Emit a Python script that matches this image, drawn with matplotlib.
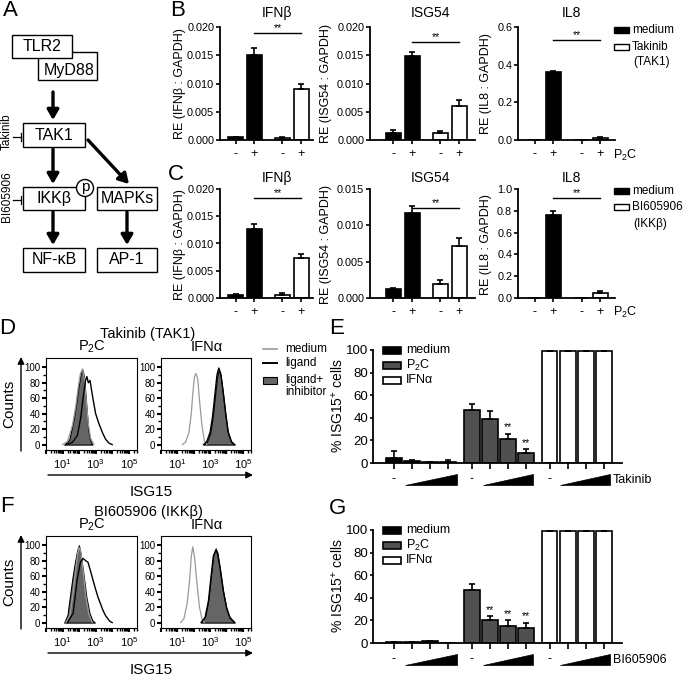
import matplotlib
matplotlib.use("Agg")
import matplotlib.pyplot as plt
from matplotlib.patches import Rectangle, Circle, Polygon
from matplotlib.ticker import FormatStrFormatter
import numpy as np

plt.rcParams['font.family'] = ['Liberation Sans', 'DejaVu Sans']
plt.rcParams['mathtext.fontset'] = 'custom'
plt.rcParams['mathtext.rm'] = 'Liberation Sans'
plt.rcParams['mathtext.it'] = 'Liberation Sans:italic'
plt.rcParams['mathtext.bf'] = 'Liberation Sans:bold'

# qPCR panels (B, C)
pos_qpcr = [0, 1, 2.5, 3.5]
p2c_labels = ['-', '+', '-', '+']
fills_qpcr = ['black', 'black', 'white', 'white']

tak_ifnb = [0.0005, 0.0150, 0.0004, 0.0090]
tak_ifnb_err = [0.0001, 0.0013, 0.0001, 0.0010]
tak_isg54 = [0.0013, 0.0149, 0.0013, 0.0060]
tak_isg54_err = [0.0005, 0.0007, 0.0003, 0.0011]
tak_il8 = [0.002, 0.362, 0.002, 0.012]
tak_il8_err = [0.0, 0.006, 0.0, 0.004]

bi_ifnb = [0.0005, 0.0126, 0.0006, 0.0074]
bi_ifnb_err = [0.0002, 0.0009, 0.0003, 0.0006]
bi_isg54 = [0.0012, 0.0117, 0.0019, 0.0071]
bi_isg54_err = [0.0002, 0.0009, 0.0006, 0.0011]
bi_il8 = [0.003, 0.76, 0.003, 0.05]
bi_il8_err = [0.0, 0.035, 0.0, 0.01]

# % ISG15+ cells (E, G)
pos_dose = [0, 1, 2, 3, 4.3, 5.3, 6.3, 7.3, 8.6, 9.6, 10.6, 11.6]
dose_colors = ['black'] * 4 + ['#505050'] * 4 + ['white'] * 4
tak_isg15 = [4, 1.8, 0.8, 1.2, 47, 39, 21, 8.5, 99, 99, 99, 99]
tak_isg15_err = [6.5, 1.2, 0.5, 1.2, 5, 7, 5, 3.5, 0.5, 0.5, 0.5, 0.5]
tak_stars = [6, 7]
bi_isg15 = [0.5, 0.5, 1.5, 0.2, 47, 20, 15, 13, 99, 99, 99, 99]
bi_isg15_err = [0.5, 0.4, 0.6, 0.2, 5.5, 3.5, 5, 4.5, 0.5, 0.5, 0.5, 0.5]
bi_stars = [5, 6, 7]

# flow histograms (D, F), x in log10 units, y = counts (% of max)
tak_p2c_medium_x = [1.0, 1.3, 1.6, 1.8, 1.95, 2.08, 2.2, 2.3, 2.42, 2.55, 2.7, 2.9]
tak_p2c_medium_y = [0, 4, 25, 50, 75, 92, 98, 88, 60, 28, 8, 0]
tak_p2c_ligand_x = [1.2, 1.6, 1.9, 2.1, 2.25, 2.38, 2.47, 2.56, 2.66, 2.75, 2.85, 3.0, 3.2, 3.4, 3.6, 3.8, 4.0]
tak_p2c_ligand_y = [0, 3, 12, 35, 62, 82, 88, 80, 83, 71, 58, 40, 27, 16, 7, 2, 0]
tak_p2c_inhib_x = [1.1, 1.4, 1.64, 1.8, 1.94, 2.08, 2.2, 2.3, 2.44, 2.55, 2.65, 2.8]
tak_p2c_inhib_y = [0, 6, 29, 50, 71, 90, 97, 88, 50, 20, 7, 0]

tak_ifna_medium_x = [1.3, 1.5, 1.7, 1.85, 1.95, 2.05, 2.14, 2.25, 2.35, 2.5, 2.65, 2.8]
tak_ifna_medium_y = [0, 3, 15, 40, 68, 88, 92, 84, 58, 25, 5, 0]
tak_ifna_ligand_x = [2.6, 2.8, 3.0, 3.15, 3.3, 3.42, 3.53, 3.65, 3.8, 3.95, 4.1, 4.3, 4.5]
tak_ifna_ligand_y = [0, 4, 16, 36, 66, 90, 99, 92, 68, 40, 17, 4, 0]
tak_ifna_inhib_x = [2.6, 2.8, 3.0, 3.15, 3.3, 3.42, 3.53, 3.65, 3.8, 3.95, 4.1, 4.3, 4.5]
tak_ifna_inhib_y = [0, 3, 14, 34, 63, 87, 97, 89, 64, 37, 14, 3, 0]

bi_p2c_medium_x = [1.2, 1.45, 1.65, 1.8, 1.92, 2.0, 2.1, 2.25, 2.4, 2.6, 2.8]
bi_p2c_medium_y = [0, 10, 40, 70, 90, 97, 92, 65, 35, 10, 0]
bi_p2c_ligand_x = [1.3, 1.64, 1.88, 2.08, 2.24, 2.4, 2.54, 2.7, 2.84, 3.0, 3.14, 3.3, 3.44, 3.6, 3.84, 4.0]
bi_p2c_ligand_y = [0, 12, 55, 78, 83, 80, 78, 66, 55, 43, 33, 24, 16, 9, 2, 0]
bi_p2c_inhib_x = [1.1, 1.3, 1.44, 1.6, 1.74, 1.88, 1.99, 2.1, 2.23, 2.44, 2.63, 2.8, 2.95]
bi_p2c_inhib_y = [0, 10, 33, 58, 77, 93, 100, 88, 68, 33, 12, 3, 0]

bi_ifna_medium_x = [1.2, 1.4, 1.6, 1.75, 1.85, 1.94, 2.05, 2.2, 2.35, 2.5, 2.65]
bi_ifna_medium_y = [0, 5, 25, 55, 85, 98, 85, 50, 20, 5, 0]
bi_ifna_ligand_x = [2.45, 2.7, 2.9, 3.05, 3.2, 3.34, 3.45, 3.6, 3.8, 4.0, 4.2, 4.5]
bi_ifna_ligand_y = [0, 7, 28, 58, 86, 93, 90, 72, 42, 20, 7, 0]
bi_ifna_inhib_x = [2.45, 2.7, 2.9, 3.05, 3.2, 3.34, 3.45, 3.6, 3.8, 4.0, 4.2, 4.5]
bi_ifna_inhib_y = [0, 8, 30, 60, 88, 96, 90, 70, 40, 18, 6, 0]

W, H = 683, 677
fig = plt.figure(figsize=(W / 100, H / 100), dpi=100)


def px_axes(x0, y0, x1, y1):
    # axes from pixel box (top-left origin)
    return fig.add_axes([x0 / W, 1 - y1 / H, (x1 - x0) / W, (y1 - y0) / H])


def qpcr_panel(rect, xl, vals, errs, ymax, ystep, fmt, sig_y):
    ax = px_axes(*rect)
    ax.bar(pos_qpcr, vals, width=0.8, color=fills_qpcr, edgecolor='black', linewidth=1.2, zorder=2)
    ax.errorbar(pos_qpcr, vals, yerr=[np.zeros(4), errs], fmt='none', ecolor='black',
                elinewidth=1.2, capsize=2.5, capthick=1.2, zorder=3)
    ax.plot([pos_qpcr[1], pos_qpcr[3]], [sig_y, sig_y], color='black', lw=1, clip_on=False)
    ax.text((pos_qpcr[1] + pos_qpcr[3]) / 2, sig_y, '**', ha='center', va='bottom', fontsize=7.5)
    ax.set_xlim(*xl)
    ax.set_ylim(0, ymax)
    ax.set_yticks(np.arange(0, ymax + ystep / 2, ystep))
    ax.yaxis.set_major_formatter(FormatStrFormatter(fmt))
    ax.set_xticks(pos_qpcr)
    ax.set_xticklabels(p2c_labels)
    for s in ['top', 'right']:
        ax.spines[s].set_visible(False)
    for s in ['left', 'bottom']:
        ax.spines[s].set_linewidth(1.3)
    ax.tick_params(axis='y', length=3, width=1.2, labelsize=7.8, pad=1.2)
    ax.tick_params(axis='x', length=3, width=1.2, labelsize=9, pad=3)
    return ax


def dose_panel(rect, vals, errs, stars):
    ax = px_axes(*rect)
    ax.bar(pos_dose, vals, width=0.88, color=dose_colors, edgecolor='black', linewidth=1.2, zorder=2)
    ax.errorbar(pos_dose, vals, yerr=[np.zeros(len(vals)), errs], fmt='none', ecolor='black',
                elinewidth=1.2, capsize=2.5, capthick=1.2, zorder=3)
    for i in stars:
        ax.text(pos_dose[i], vals[i] + errs[i] + 1.5, '**', ha='center', va='bottom', fontsize=7.5)
    ax.set_xlim(-1.14, 12.6)
    ax.set_ylim(0, 100)
    ax.set_yticks(range(0, 101, 20))
    ax.set_xticks(pos_dose)
    ax.set_xticklabels([])
    for s in ['top', 'right']:
        ax.spines[s].set_visible(False)
    for s in ['left', 'bottom']:
        ax.spines[s].set_linewidth(1.3)
    ax.tick_params(axis='y', length=2.5, width=1.2, labelsize=9.5, pad=1)
    ax.tick_params(axis='x', length=4.5, width=1.2)
    return ax


def hist_panel(rect, mx, my, lx, ly, ix, iy):
    ax = px_axes(*rect)
    ax.fill_between(ix, iy, 0, facecolor='#656565', edgecolor='black', linewidth=0.8, zorder=2)
    ax.plot(mx, my, color='#9a9a9a', lw=0.9, zorder=3)
    ax.plot(lx, ly, color='black', lw=1.0, zorder=4)
    ax.set_xlim(0.05, 5.5)
    ax.set_ylim(-7, 112)
    ax.set_yticks(range(0, 101, 20))
    ax.set_yticks(range(10, 101, 20), minor=True)
    ax.set_xticks([0, 1, 2, 3, 4, 5])
    ax.set_xticklabels(['', '$10^{1}$', '', '$10^{3}$', '', '$10^{5}$'])
    ax.set_xticks([d + np.log10(k) for d in range(0, 6) for k in range(2, 10) if d + np.log10(k) < 5.5],
                  minor=True)
    for s in ax.spines.values():
        s.set_linewidth(0.8)
    ax.tick_params(axis='both', which='major', length=3, width=1.5, labelsize=7, pad=1)
    ax.tick_params(axis='x', which='major', pad=2.5, labelsize=8)
    ax.tick_params(axis='both', which='minor', length=2, width=1.0)
    return ax


# B: Takinib
qpcr_panel((220, 27, 313, 140), (-0.84, 4.13), tak_ifnb, tak_ifnb_err, 0.020, 0.005, '%.3f', 0.0189)
qpcr_panel((370, 27, 475, 140), (-1.23, 4.33), tak_isg54, tak_isg54_err, 0.020, 0.005, '%.3f', 0.0174)
qpcr_panel((518, 27, 615, 140), (-0.89, 4.28), tak_il8, tak_il8_err, 0.6, 0.2, '%.1f', 0.53)
# C: BI605906
qpcr_panel((220, 189, 313, 298), (-0.84, 4.13), bi_ifnb, bi_ifnb_err, 0.020, 0.005, '%.3f', 0.0183)
qpcr_panel((370, 189, 475, 298), (-1.23, 4.33), bi_isg54, bi_isg54_err, 0.015, 0.005, '%.3f', 0.0124)
qpcr_panel((518, 189, 615, 298), (-0.89, 4.28), bi_il8, bi_il8_err, 1.0, 0.2, '%.1f', 0.915)

# D, F: histograms
hist_panel((46, 358, 137, 450), tak_p2c_medium_x, tak_p2c_medium_y, tak_p2c_ligand_x, tak_p2c_ligand_y,
           tak_p2c_inhib_x, tak_p2c_inhib_y)
hist_panel((161, 358, 251, 450), tak_ifna_medium_x, tak_ifna_medium_y, tak_ifna_ligand_x, tak_ifna_ligand_y,
           tak_ifna_inhib_x, tak_ifna_inhib_y)
hist_panel((46, 536, 137, 628), bi_p2c_medium_x, bi_p2c_medium_y, bi_p2c_ligand_x, bi_p2c_ligand_y,
           bi_p2c_inhib_x, bi_p2c_inhib_y)
hist_panel((161, 536, 251, 628), bi_ifna_medium_x, bi_ifna_medium_y, bi_ifna_ligand_x, bi_ifna_ligand_y,
           bi_ifna_inhib_x, bi_ifna_inhib_y)

# E, G: % ISG15+ cells
dose_panel((373, 350, 622, 463), tak_isg15, tak_isg15_err, tak_stars)
dose_panel((373, 530, 622, 643), bi_isg15, bi_isg15_err, bi_stars)

# overlay for diagram, labels, legends (pixel coordinates)
ov = fig.add_axes([0, 0, 1, 1], zorder=10)
ov.set_xlim(0, W)
ov.set_ylim(H, 0)
ov.axis('off')

# panel letters
for letter, x, y in [('A', 10, 11), ('B', 178, 10), ('C', 176, 174), ('D', 7, 329),
                     ('E', 337, 328), ('F', 7, 507), ('G', 338, 509)]:
    ov.text(x, y, letter, fontsize=16, ha='center', va='center')

# A: pathway diagram
boxes = [('MyD88', 38, 52, 97, 80, 70), ('TLR2', 12, 35, 72, 58, 46.5),
         ('TAK1', 23, 123, 85, 147, 135), ('IKKβ', 23, 187, 85, 210, 198.5),
         ('MAPKs', 97, 187, 157, 210, 198.5), ('NF-κB', 23, 248, 85, 272, 260),
         ('AP-1', 97, 248, 157, 272, 260)]
for label, x0, y0, x1, y1, ty in boxes:
    ov.add_patch(Rectangle((x0, y0), x1 - x0, y1 - y0, fc='white', ec='black', lw=1.0))
    tx = 69 if label == 'MyD88' else (x0 + x1) / 2
    ov.text(tx, ty, label, fontsize=11.5, ha='center', va='center')

arrows = [((53, 92), (53, 120)), ((53, 149), (53, 184)), ((88, 140), (129, 184)),
          ((53, 212), (53, 245)), ((127, 212), (127, 245))]
for (xs, ys), (xe, ye) in arrows:
    ov.annotate('', xy=(xe, ye), xytext=(xs, ys),
                arrowprops=dict(arrowstyle='-|>,head_length=0.6,head_width=0.35', lw=2.4,
                                color='black', shrinkA=0, shrinkB=0))
ov.add_patch(Circle((85, 188), 8.5, fc='white', ec='black', lw=1.0, zorder=5))
ov.text(85, 187, 'p', fontsize=11, ha='center', va='center', zorder=6)

ov.text(7, 132, 'Takinib', fontsize=8.5, rotation=90, ha='center', va='center')
ov.text(7, 197, 'BI605906', fontsize=8.5, rotation=90, ha='center', va='center')
for yy in [137, 200]:
    ov.plot([13, 21], [yy, yy], color='black', lw=0.9)
    ov.plot([21, 21], [yy - 4, yy + 4], color='black', lw=0.9)

# B/C titles, y labels, legends
for ty in [13, 178]:
    ov.text(277, ty, 'IFNβ', fontsize=10, ha='center', va='center')
    ov.text(430, ty, 'ISG54', fontsize=10, ha='center', va='center')
    ov.text(571, ty, 'IL8', fontsize=10, ha='center', va='center')
for yc in [83.5, 245]:
    ov.text(180, yc, 'RE (IFNβ : GAPDH)', fontsize=9, rotation=90, ha='center', va='center')
    ov.text(326, yc, 'RE (ISG54 : GAPDH)', fontsize=9, rotation=90, ha='center', va='center')
    ov.text(486, yc, 'RE (IL8 : GAPDH)', fontsize=9, rotation=90, ha='center', va='center')
for py in [155, 312]:
    ov.text(613, py, 'P$_2$C', fontsize=9, ha='left', va='center')

for (y1, y2, y3, l2, l3) in [(30, 46.5, 62, 'Takinib', '(TAK1)'), (191, 207, 224, 'BI605906', '(IKKβ)')]:
    ov.add_patch(Rectangle((614, y1 - 3), 15, 6, fc='black', ec='black', lw=1.0))
    ov.add_patch(Rectangle((614, y2 - 3), 15, 6, fc='white', ec='black', lw=1.0))
    ov.text(632, y1, 'medium', fontsize=8.5, va='center')
    ov.text(632, y2, l2, fontsize=8.5, va='center')
    ov.text(633, y3, l3, fontsize=8.5, va='center')

# D/F text
for dy, title in [(0, 'Takinib (TAK1)'), (178, 'BI605906 (IKKβ)')]:
    ov.text(148, 334 + dy, title, fontsize=10.5, ha='center', va='center')
    ov.text(92, 347 + dy, 'P$_2$C', fontsize=10.5, ha='center', va='center')
    ov.text(207, 347 + dy, 'IFNα', fontsize=10.5, ha='center', va='center')
    ov.text(9, 404 + dy, 'Counts', fontsize=11, rotation=90, ha='center', va='center')
    ov.annotate('', xy=(21, 357 + dy), xytext=(21, 451 + dy),
                arrowprops=dict(arrowstyle='-|>,head_length=0.4,head_width=0.2', lw=1.0,
                                color='black', shrinkA=0, shrinkB=0))
    ov.annotate('', xy=(253, 475 + dy), xytext=(48, 475 + dy),
                arrowprops=dict(arrowstyle='-|>,head_length=0.4,head_width=0.2', lw=1.0,
                                color='black', shrinkA=0, shrinkB=0))
    ov.text(151, 492 + dy, 'ISG15', fontsize=11, ha='center', va='center')

# D legend
ov.plot([263, 277], [349, 349], color='#9a9a9a', lw=1.2)
ov.text(285, 349, 'medium', fontsize=8.5, va='center')
ov.plot([263, 277], [363, 363], color='black', lw=1.4)
ov.text(285, 363, 'ligand', fontsize=8.5, va='center')
ov.add_patch(Rectangle((263, 377), 14, 7, fc='#656565', ec='black', lw=0.8))
ov.text(285, 380, 'ligand+', fontsize=8.5, va='center')
ov.text(285, 392, 'inhibitor', fontsize=8.5, va='center')

# E/G legends, y labels, dose wedges
for dy, drug in [(0, 'Takinib'), (180, 'BI605906')]:
    for k, (lab, col) in enumerate([('medium', 'black'), ('P$_2$C', '#505050'), ('IFNα', 'white')]):
        yy = 350 + dy + 15 * k
        ov.add_patch(Rectangle((383, yy - 3.5), 18, 7, fc=col, ec='black', lw=1.2))
        ov.text(406, yy, lab, fontsize=9, va='center')
    ov.text(338, 406 + dy, '% ISG15$^{+}$ cells', fontsize=10, rotation=90, ha='center', va='center')
    for xm, x0, x1 in [(394, 405, 457), (471.5, 483, 533), (549, 560, 610)]:
        ov.text(xm, 479 + dy, '-', fontsize=9, ha='center', va='center')
        ov.add_patch(Polygon([(x0, 485 + dy), (x1, 485 + dy), (x1, 474 + dy)], closed=True,
                             fc='black', ec='black', lw=0.5))
    ov.text(613, 480 + dy, drug, fontsize=9, ha='left', va='center')

fig.savefig('out.png', dpi=100)
